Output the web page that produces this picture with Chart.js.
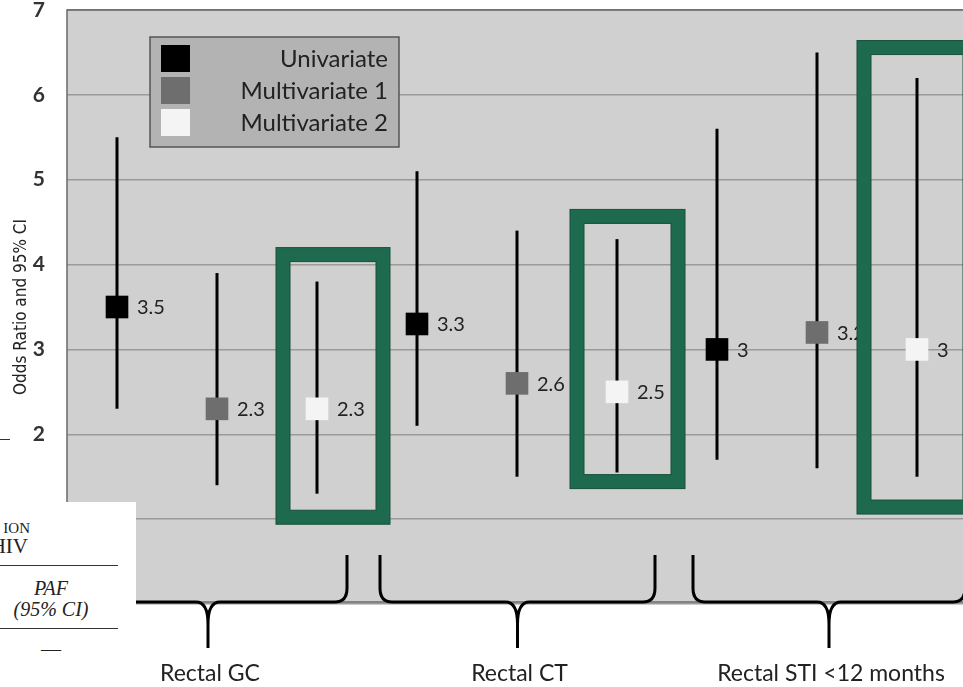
<!DOCTYPE html>
<html>
<head>
<meta charset="utf-8">
<script src="https://cdn.jsdelivr.net/npm/chart.js@4/dist/chart.umd.min.js"></script>
<style>
  html, body { margin: 0; padding: 0; background: #fff; overflow: hidden; width: 963px; height: 687px; }
  #wrap { position: relative; width: 963px; height: 687px; overflow: hidden; }
  #chart { position: absolute; left: 0; top: 0; }
  #table { position: absolute; left: 0; top: 502px; width: 136px; height: 185px; background: #fff;
           font-family: "Liberation Serif", "DejaVu Serif", serif; color: #222; }
  #table .t { position: absolute; white-space: nowrap; }
  #table .rule { position: absolute; left: 0; width: 118px; height: 1px; background: #333; }
  #dash { position: absolute; left: 0; top: 439px; width: 10px; height: 1px; background: #333; }
</style>
</head>
<body>
<div id="wrap">
  <canvas id="chart" width="1000" height="687"></canvas>
  <div id="dash"></div>
  <div id="table">
    <div class="t" style="right:106px; top:18px; font-size:15px;">ION</div>
    <div class="t" style="right:108px; top:32px; font-size:21px;">HIV</div>
    <div class="rule" style="top:63px;"></div>
    <div class="t" style="left:0; width:102px; text-align:center; top:75px; font-size:20px; font-style:italic;">PAF</div>
    <div class="t" style="left:0; width:102px; text-align:center; top:96px; font-size:20px; font-style:italic;">(95% CI)</div>
    <div class="rule" style="top:126px;"></div>
    <div class="t" style="left:0; width:102px; text-align:center; top:136px; font-size:20px;">—</div>
  </div>
</div>
<script>
// groups and series
const groups = ["Rectal GC", "Rectal CT", "Rectal STI <12 months"];
const seriesNames = ["Univariate", "Multivariate 1", "Multivariate 2"];
const categories = groups.flatMap((g) => seriesNames.map((s) => g + " - " + s));

// odds ratios with 95% CI, one value per group
const univariateOR = [3.5, 3.3, 3.0];
const univariateLow = [2.3, 2.1, 1.7];
const univariateHigh = [5.5, 5.1, 5.6];

const multi1OR = [2.3, 2.6, 3.2];
const multi1Low = [1.4, 1.5, 1.6];
const multi1High = [3.9, 4.4, 6.5];

const multi2OR = [2.3, 2.5, 3.0];
const multi2Low = [1.3, 1.55, 1.5];
const multi2High = [3.8, 4.3, 6.2];

const yTicks = [0, 1, 2, 3, 4, 5, 6, 7];

// green highlight boxes (x in category index, y in odds ratio)
const highlightLeft = [1.59, 4.53, 7.4];
const highlightRight = [2.73, 5.68, 8.6];
const highlightTop = [4.2, 4.65, 6.64];
const highlightBottom = [0.94, 1.36, 1.06];

// brace extents under the axis (category index)
const braceStart = [-0.48, 2.63, 5.76];
const braceEnd = [2.3, 5.38, 8.48];

const markerColors = ["#000000", "#6e6e6e", "#f4f4f4"];

function spread(values, slot) {
  let out = categories.map(() => null);
  values.forEach((v, i) => { out[i * 3 + slot] = v; });
  return out;
}

const lows = [univariateLow, multi1Low, multi2Low];
const highs = [univariateHigh, multi1High, multi2High];

var data = {
  labels: categories,
  datasets: [univariateOR, multi1OR, multi2OR].map((vals, k) => ({
    label: seriesNames[k],
    data: spread(vals, k),
    low: spread(lows[k], k),
    high: spread(highs[k], k),
    showLine: false,
    pointStyle: "rect",
    pointRadius: 16,
    pointHoverRadius: 16,
    pointBorderWidth: 0,
    pointBackgroundColor: markerColors[k],
    backgroundColor: markerColors[k],
  })),
};

function catPx(scale, v) {
  let a = scale.getPixelForValue(0);
  let b = scale.getPixelForValue(1);
  return a + v * (b - a);
}

const plotBack = {
  id: "plotBack",
  beforeDraw(chart) {
    const { ctx, chartArea: a } = chart;
    ctx.save();
    ctx.fillStyle = "#d0d0d0";
    ctx.fillRect(a.left, a.top, a.right - a.left, a.bottom - a.top);
    ctx.restore();
  },
  afterDraw(chart) {
    const { ctx, chartArea: a } = chart;
    ctx.save();
    ctx.strokeStyle = "#6a6a6a";
    ctx.lineWidth = 1.5;
    ctx.strokeRect(a.left, a.top, a.right - a.left, a.bottom - a.top - 2);
    ctx.restore();
  },
};

const errorBars = {
  id: "errorBars",
  beforeDatasetsDraw(chart) {
    const { ctx } = chart;
    const y = chart.scales.y;
    ctx.save();
    ctx.strokeStyle = "#000";
    ctx.lineWidth = 3;
    chart.data.datasets.forEach((ds, di) => {
      chart.getDatasetMeta(di).data.forEach((pt, i) => {
        if (ds.data[i] == null) return;
        ctx.beginPath();
        ctx.moveTo(pt.x, y.getPixelForValue(ds.low[i]));
        ctx.lineTo(pt.x, y.getPixelForValue(ds.high[i]));
        ctx.stroke();
      });
    });
    ctx.restore();
  },
  afterDatasetsDraw(chart) {
    const { ctx } = chart;
    const x = chart.scales.x;
    const y = chart.scales.y;
    ctx.save();
    // value labels
    ctx.font = "20px Lato, 'Open Sans', sans-serif";
    ctx.fillStyle = "#222";
    ctx.textBaseline = "middle";
    chart.data.datasets.forEach((ds, di) => {
      chart.getDatasetMeta(di).data.forEach((pt, i) => {
        if (ds.data[i] == null) return;
        ctx.fillText(String(ds.data[i]), pt.x + 20, pt.y + 1);
      });
    });
    // green highlight boxes
    groups.forEach((g, i) => {
      let l = catPx(x, highlightLeft[i]) + 7;
      let r = catPx(x, highlightRight[i]) - 7;
      let t = y.getPixelForValue(highlightTop[i]) + 7;
      let b = y.getPixelForValue(highlightBottom[i]) - 7;
      ctx.strokeStyle = "#1e6a4e";
      ctx.lineWidth = 14;
      ctx.strokeRect(l, t, r - l, b - t);
      ctx.strokeStyle = "#16503b";
      ctx.lineWidth = 1;
      ctx.strokeRect(l - 7, t - 7, r - l + 14, b - t + 14);
      ctx.strokeRect(l + 7, t + 7, r - l - 14, b - t - 14);
    });
    ctx.restore();
  },
};

const braces = {
  id: "braces",
  afterDraw(chart) {
    const { ctx, chartArea: a } = chart;
    const x = chart.scales.x;
    const base = a.bottom - 2;
    ctx.save();
    ctx.strokeStyle = "#000";
    ctx.lineWidth = 3;
    ctx.lineJoin = "round";
    groups.forEach((g, i) => {
      let s = catPx(x, braceStart[i]);
      let e = catPx(x, braceEnd[i]);
      let c = (s + e) / 2;
      ctx.beginPath();
      ctx.moveTo(s, base - 47);
      ctx.lineTo(s, base - 14);
      ctx.quadraticCurveTo(s, base, s + 12, base);
      ctx.lineTo(c - 12, base);
      ctx.quadraticCurveTo(c, base, c, base + 22);
      ctx.lineTo(c, base + 46);
      ctx.moveTo(c, base + 22);
      ctx.quadraticCurveTo(c, base, c + 12, base);
      ctx.lineTo(e - 12, base);
      ctx.quadraticCurveTo(e, base, e, base - 14);
      ctx.lineTo(e, base - 47);
      ctx.stroke();
      ctx.font = "23px Lato, 'Open Sans', sans-serif";
      ctx.fillStyle = "#222";
      ctx.textAlign = "center";
      ctx.textBaseline = "middle";
      ctx.fillText(g, c + 2, 674);
    });
    ctx.restore();
  },
};

const boxLegend = {
  id: "boxLegend",
  afterDraw(chart) {
    const { ctx } = chart;
    ctx.save();
    ctx.fillStyle = "#b3b3b3";
    ctx.fillRect(150, 37, 249, 110);
    ctx.strokeStyle = "#555";
    ctx.lineWidth = 1.5;
    ctx.strokeRect(150, 37, 249, 110);
    ctx.font = "24px Lato, 'Open Sans', sans-serif";
    ctx.textAlign = "right";
    ctx.textBaseline = "middle";
    chart.data.datasets.forEach((ds, k) => {
      let top = 45 + k * 32;
      ctx.fillStyle = ds.pointBackgroundColor;
      ctx.fillRect(161, top, 29, 27);
      ctx.fillStyle = "#222";
      ctx.fillText(ds.label, 388, top + 14);
    });
    ctx.restore();
  },
};

var options = {
  responsive: false,
  animation: false,
  layout: { autoPadding: false, padding: { top: 10, right: 33, bottom: 83, left: 0 } },
  plugins: { legend: { display: false }, tooltip: { enabled: false } },
  scales: {
    x: { display: false, offset: true },
    y: {
      min: 0,
      max: 7,
      afterBuildTicks: (scale) => { scale.ticks = yTicks.map((v) => ({ value: v })); },
      afterFit: (scale) => {
        scale.width = 67;
        scale.paddingTop = 0;
        scale.paddingBottom = 0;
      },
      grid: { color: "#9a9a9a", lineWidth: 1.5, drawTicks: false },
      border: { display: false },
      ticks: {
        padding: 22,
        color: "#333",
        font: { family: "Lato, 'Open Sans', sans-serif", size: 21, weight: "bold" },
      },
      title: {
        display: true,
        text: "Odds Ratio and 95% CI",
        color: "#222",
        padding: { top: 11, bottom: 0 },
        font: { family: "'Liberation Sans Narrow', 'DejaVu Sans Condensed', sans-serif", size: 17 },
      },
    },
  },
};

const chart = new Chart("chart", {
  type: "line",
  data: data,
  options: options,
  plugins: [plotBack, errorBars, braces, boxLegend],
});
</script>
</body>
</html>
